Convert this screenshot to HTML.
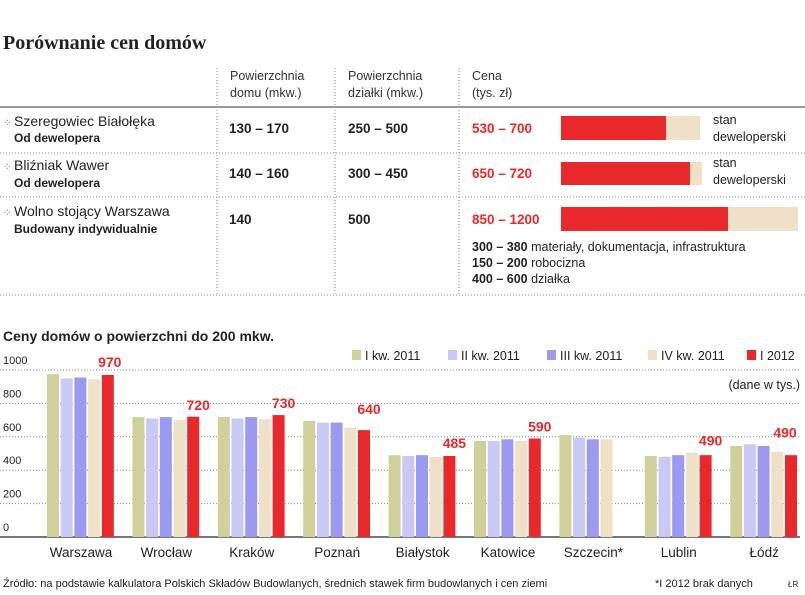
<!DOCTYPE html>
<html><head><meta charset="utf-8"><style>
body{margin:0;background:#fff;width:805px;height:590px;overflow:hidden;font-family:"Liberation Sans",sans-serif;}
svg text{font-family:"Liberation Sans",sans-serif;}
</style></head><body>
<svg id="s" width="805" height="590">
<text x="3" y="49" style="font-family:'Liberation Serif',serif" font-size="20" font-weight="bold" fill="#222">Porównanie cen domów</text>
<g font-size="12.5" fill="#333">
<text x="230" y="80">Powierzchnia</text><text x="230" y="97">domu (mkw.)</text>
<text x="348" y="80">Powierzchnia</text><text x="348" y="97">działki (mkw.)</text>
<text x="472" y="80">Cena</text><text x="472" y="97">(tys. zł)</text>
</g>
<g stroke="#888" stroke-dasharray="1,2">
<line x1="217" y1="68" x2="217" y2="295"/><line x1="335" y1="68" x2="335" y2="295"/><line x1="459" y1="68" x2="459" y2="295"/>
<line x1="0" y1="153" x2="805" y2="153"/><line x1="0" y1="197" x2="805" y2="197"/><line x1="0" y1="295" x2="805" y2="295"/>
</g>
<line x1="0" y1="107" x2="805" y2="107" stroke="#999" stroke-width="2"/>
<g font-size="14" fill="#222">
<text x="3" y="126" fill="#e8282a" font-size="10">⁘</text><text x="14" y="126">Szeregowiec Białołęka</text><text x="14" y="142" font-size="12" font-weight="bold">Od dewelopera</text>
<text x="3" y="170" fill="#e8282a" font-size="10">⁘</text><text x="14" y="170">Bliźniak Wawer</text><text x="14" y="187" font-size="12" font-weight="bold">Od dewelopera</text>
<text x="3" y="216" fill="#e8282a" font-size="10">⁘</text><text x="14" y="216">Wolno stojący Warszawa</text><text x="14" y="233" font-size="12" font-weight="bold">Budowany indywidualnie</text>
<g font-weight="bold" font-size="13.5">
<text x="229" y="133">130 – 170</text><text x="348" y="133">250 – 500</text><text x="472" y="133" fill="#e8282a">530 – 700</text>
<text x="229" y="178">140 – 160</text><text x="348" y="178">300 – 450</text><text x="472" y="178" fill="#e8282a">650 – 720</text>
<text x="229" y="224">140</text><text x="348" y="224">500</text><text x="472" y="224" fill="#e8282a">850 – 1200</text>
</g>
<rect x="561" y="116" width="139" height="24" fill="#efe0c8"/><rect x="561" y="116" width="105" height="24" fill="#e8282a"/>
<rect x="561" y="162" width="141" height="23" fill="#efe0c8"/><rect x="561" y="162" width="129" height="23" fill="#e8282a"/>
<rect x="561" y="207" width="237" height="24" fill="#efe0c8"/><rect x="561" y="207" width="167" height="24" fill="#e8282a"/>
<g font-size="12.5"><text x="713" y="124">stan</text><text x="713" y="141">deweloperski</text>
<text x="713" y="167">stan</text><text x="713" y="184">deweloperski</text></g>
<g font-size="12.5"><text x="472" y="251"><tspan font-weight="bold">300 – 380</tspan> materiały, dokumentacja, infrastruktura</text>
<text x="472" y="267"><tspan font-weight="bold">150 – 200</tspan> robocizna</text>
<text x="472" y="283"><tspan font-weight="bold">400 – 600</tspan> działka</text></g>
</g>
<text x="3" y="341" font-size="14" font-weight="bold" fill="#222">Ceny domów o powierzchni do 200 mkw.</text>
<text x="800" y="389" font-size="12.5" text-anchor="end" fill="#222">(dane w tys.)</text>
<g id="grid"></g><g id="bars"></g><g id="legend"></g>
<text x="3" y="587" font-size="11" fill="#222">Źródło: na podstawie kalkulatora Polskich Składów Budowlanych, średnich stawek  firm budowlanych i cen ziemi</text>
<text x="655" y="587" font-size="11" fill="#222">*I 2012 brak danych</text>
<text x="788" y="587" font-size="8" fill="#222">ŁR</text>
</svg>
<script>
const categories=["Warszawa","Wrocław","Kraków","Poznań","Białystok","Katowice","Szczecin*","Lublin","Łódź"];
const seriesNames=["I kw. 2011","II kw. 2011","III kw. 2011","IV kw. 2011","I 2012"];
const q1_2011=[975,718,718,695,490,575,610,485,545];
const q2_2011=[950,710,710,685,485,575,595,480,555];
const q3_2011=[955,718,718,685,490,585,585,490,545];
const q4_2011=[945,700,705,655,480,575,585,505,510];
const q1_2012=[970,720,730,640,485,590,null,490,490];
const printed=["970","720","730","640","485","590","","490","490"];
const yTicks=[0,200,400,600,800,1000];
const colors=["#cfd09a","#c9c9f6","#9c99f0","#efe0c8","#e8282a"];
const NS="http://www.w3.org/2000/svg";
const y=v=>537-v*0.167;
const gx=i=>47+i*85.4;
function mk(t,a,p){const e=document.createElementNS(NS,t);for(const k in a)e.setAttribute(k,a[k]);p.appendChild(e);return e;}
const grid=document.getElementById('grid');
yTicks.forEach(t=>{
 if(t>0){const l=mk('line',{x1:0,x2:800,y1:y(t),y2:y(t),stroke:'#888','stroke-dasharray':'1,2'},grid);
 
 }
 const tx=mk('text',{x:3,y:y(t)-6,'font-size':11,fill:'#222'},grid);tx.textContent=t;
 
 
});
mk('line',{x1:0,x2:800,y1:537,y2:537,stroke:'#777','stroke-width':2},grid);
const bars=document.getElementById('bars');
const series=[q1_2011,q2_2011,q3_2011,q4_2011,q1_2012];
categories.forEach((c,i)=>{
 let mx=0;
 series.forEach((s,j)=>{
  if(s[i]==null)return;
  mx=Math.max(mx,s[i]);
  const r=mk('rect',{x:gx(i)+j*13.7,y:y(s[i]),width:12,height:537-y(s[i]),fill:colors[j]},bars);
  
  
 });
 if(printed[i]){const cx=Math.min(gx(i)+4*13.7+6+(i==0?2:5),785);
 const t=mk('text',{x:cx,y:y(Math.max(mx,q1_2012[i]))-7,'font-size':14,'font-weight':'bold',fill:'#e8282a','text-anchor':'middle'},bars);t.textContent=printed[i];
 
 }
 const l=mk('text',{x:gx(i)+34,y:557,'font-size':13.5,fill:'#222','text-anchor':'middle'},bars);l.textContent=c;
 
 
});
const lg=document.getElementById('legend');
const lx=[352,448,547,648,747];
seriesNames.forEach((n,j)=>{
 const r=mk('rect',{x:lx[j],y:350,width:9,height:10,fill:colors[j]},lg);
 
 
 const t=mk('text',{x:lx[j]+13,y:360,'font-size':12.5,fill:'#222'},lg);t.textContent=n;
 
 
});
</script>
</body></html>
